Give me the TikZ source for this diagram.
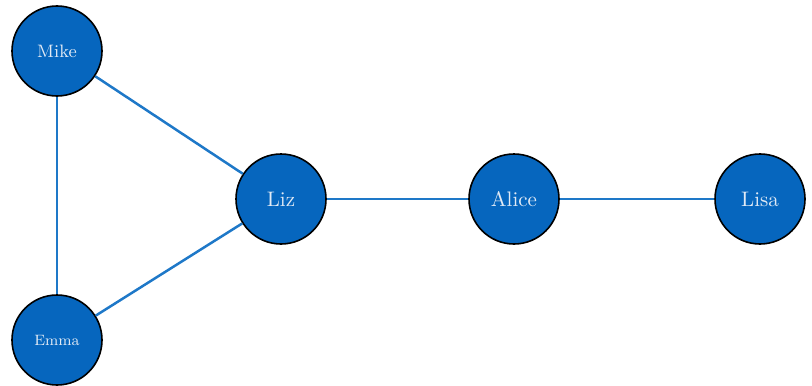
\documentclass[tikz,border=0pt]{standalone}
\definecolor{nodefill}{RGB}{6,102,190}
\definecolor{edgecol}{RGB}{30,120,200}
\definecolor{textcol}{RGB}{225,234,245}
\tikzset{
  person/.style={circle, draw=black, line width=0.8pt, fill=nodefill, text=textcol, minimum size=45pt, inner sep=0pt},
  link/.style={draw=edgecol, line width=1.25pt}
}
\begin{document}
\begin{tikzpicture}[x=0.5pt, y=-0.5pt]
\useasboundingbox (0,0) rectangle (812,385);
\node[person, font=\fontsize{9}{10}\selectfont] (mike) at (57,51) {Mike};
\node[person, font=\fontsize{7.5}{9}\selectfont] (emma) at (57,340) {Emma};
\node[person, font=\fontsize{10.5}{12}\selectfont] (liz) at (281,199) {Liz};
\node[person, font=\fontsize{10.5}{12}\selectfont] (alice) at (514,199) {Alice};
\node[person, font=\fontsize{10.5}{12}\selectfont] (lisa) at (760,199) {Lisa};
\draw[link] (mike) -- (emma);
\draw[link] (mike) -- (liz);
\draw[link] (emma) -- (liz);
\draw[link] (liz) -- (alice);
\draw[link] (alice) -- (lisa);
\end{tikzpicture}
\end{document}
